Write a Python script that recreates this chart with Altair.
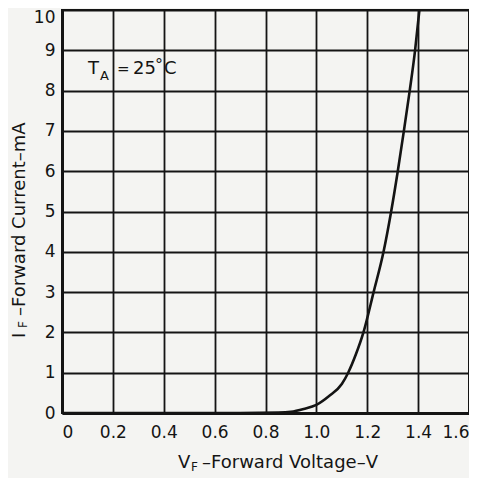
import altair as alt
import pandas as pd

# Forward current vs forward voltage
volts = [0.0, 0.7, 0.85, 0.9, 0.95, 1.0, 1.05, 1.1, 1.125, 1.155, 1.185, 1.225,
         1.264, 1.294, 1.320, 1.344, 1.367, 1.388, 1.405]
current = [0.0, 0.0, 0.01, 0.03, 0.1, 0.2, 0.42, 0.72, 1.0, 1.45, 2.0, 3.0,
           4.0, 5.0, 6.0, 7.0, 8.0, 9.0, 10.0]
x_ticks = [0, 0.2, 0.4, 0.6, 0.8, 1.0, 1.2, 1.4, 1.6]
y_ticks = [0, 1, 2, 3, 4, 5, 6, 7, 8, 9, 10]

df = pd.DataFrame({"V": volts, "I": current})

FONT = "DejaVu Sans"
INK = "#141414"
W, H = 407, 403

x_scale = alt.Scale(domain=[0, 1.6], nice=False, zero=False)
y_scale = alt.Scale(domain=[0, 10], nice=False)

curve = alt.Chart(df).mark_line(
    color=INK, strokeWidth=2.6, interpolate="monotone", clip=True
).encode(
    x=alt.X("V:Q", scale=x_scale,
            axis=alt.Axis(values=x_ticks, title=None, grid=True, ticks=False, tickSize=0,
                          labelPadding=11, labelFontSize=17, labelFont=FONT,
                          labelColor=INK, gridColor=INK, gridWidth=1.8, gridOpacity=1,
                          domainColor=INK, domainWidth=3,
                          labelExpr="datum.value == 0 ? '0' : format(datum.value, '.1f')")),
    y=alt.Y("I:Q", scale=y_scale,
            axis=alt.Axis(values=y_ticks, title=None, grid=True, ticks=False, tickSize=0,
                          labelPadding=7, labelFontSize=17, labelFont=FONT,
                          labelColor=INK, gridColor=INK, gridWidth=1.8, gridOpacity=1,
                          domainColor=INK, domainWidth=3,
                          labelOffset={"condition": {"test": "datum.value == 10", "value": 7},
                                       "value": 0})),
)

def txt(s, x, y, size=18, angle=0):
    return alt.Chart(pd.DataFrame({"t": [s]})).mark_text(
        text=s, font=FONT, fontSize=size, color=INK, align="left",
        baseline="alphabetic", angle=angle
    ).encode(x=alt.value(x), y=alt.value(y))

labels = [
    # T_A = 25°C
    txt("T", 26, 64),
    txt("A", 38, 70, size=13),
    txt("=", 55, 64, size=15),
    txt("25", 71, 64),
    txt("°", 93, 60, size=16),
    txt("C", 102, 64),
    # x title
    txt("V", 116, 458),
    txt("F", 129, 461, size=12),
    txt("–Forward Voltage–V", 140, 458),
    # y title (rotated)
    txt("I", -37, 328, angle=270),
    txt("F", -35, 318, size=12, angle=270),
    txt("–Forward Current–mA", -37, 306, angle=270),
]

chart = alt.layer(curve, *labels).properties(
    width=W, height=H,
    autosize=alt.AutoSizeParams(type="none"),
    padding={"left": 54, "top": 2, "right": 0, "bottom": 66},
    background="#f4f4f2",
).configure_view(stroke=INK, strokeWidth=2)

chart.save("out.html", embed_options={"renderer": "svg", "actions": False})
